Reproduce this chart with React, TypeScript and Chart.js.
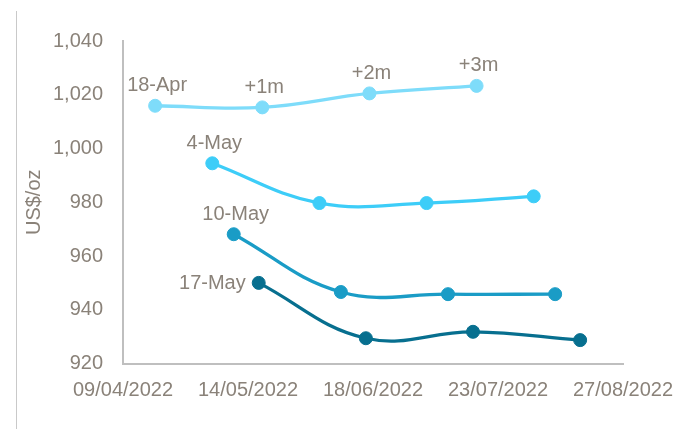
import React, { useEffect, useRef } from "react";
import { Chart, registerables } from "chart.js";

Chart.register(...registerables);

// ---- data ----
const seriesNames = ["18-Apr", "4-May", "10-May", "17-May"];

const apr18Dates = ["2022-04-18", "2022-05-18", "2022-06-17", "2022-07-17"];
const may4Dates = ["2022-05-04", "2022-06-03", "2022-07-03", "2022-08-02"];
const may10Dates = ["2022-05-10", "2022-06-09", "2022-07-09", "2022-08-08"];
const may17Dates = ["2022-05-17", "2022-06-16", "2022-07-16", "2022-08-15"];

const apr18Values = [1015.9, 1015.3, 1020.5, 1023.3];
const may4Values = [994.5, 979.7, 979.7, 982.2];
const may10Values = [968.1, 946.6, 945.8, 945.8];
const may17Values = [950.0, 929.4, 931.8, 928.7];

const apr18Labels = ["18-Apr", "+1m", "+2m", "+3m"];
const may4Labels = ["4-May", "", "", ""];
const may10Labels = ["10-May", "", "", ""];
const may17Labels = ["17-May", "", "", ""];

const xMinDate = "2022-04-09";
const xMaxDate = "2022-08-27";
const xStepDays = 35;
const yMin = 920;
const yMax = 1040;
const yStep = 20;
const yTitle = "US$/oz";

// ---- styles ----
const colors = ["#7edcfa", "#3dcdf8", "#1a9cc6", "#076f8f"];
const labelSides = ["top", "top", "top", "left"];
const textColor = "#8a8279";
const fontFamily = "'Liberation Sans', Arial, sans-serif";

const toDay = (s: string) => {
  const [y, m, d] = s.split("-").map(Number);
  return Date.UTC(y, m - 1, d) / 86400000;
};
const fmtDay = (v: number) => {
  const d = new Date(v * 86400000);
  const dd = String(d.getUTCDate()).padStart(2, "0");
  const mm = String(d.getUTCMonth() + 1).padStart(2, "0");
  return `${dd}/${mm}/${d.getUTCFullYear()}`;
};

const allDates = [apr18Dates, may4Dates, may10Dates, may17Dates];
const allValues = [apr18Values, may4Values, may10Values, may17Values];
const allLabels = [apr18Labels, may4Labels, may10Labels, may17Labels];

const pointLabelPlugin = {
  id: "pointLabels",
  afterDatasetsDraw(chart: any) {
    const ctx = chart.ctx;
    ctx.save();
    ctx.font = `20px ${fontFamily}`;
    ctx.fillStyle = textColor;
    chart.data.datasets.forEach((ds: any, i: number) => {
      const meta = chart.getDatasetMeta(i);
      meta.data.forEach((el: any, j: number) => {
        const txt = allLabels[i][j];
        if (!txt) return;
        if (labelSides[i] === "left") {
          ctx.textAlign = "right";
          ctx.textBaseline = "middle";
          ctx.fillText(txt, el.x - 13, el.y + 1);
        } else {
          ctx.textAlign = "center";
          ctx.textBaseline = "middle";
          ctx.fillText(txt, el.x + 2, el.y - 20);
        }
      });
    });
    ctx.restore();
  },
};

const edgeLinePlugin = {
  id: "edgeLine",
  afterDraw(chart: any) {
    const ctx = chart.ctx;
    ctx.save();
    ctx.strokeStyle = "#c9c9c9";
    ctx.lineWidth = 1;
    ctx.beginPath();
    ctx.moveTo(16.5, 11);
    ctx.lineTo(16.5, 429);
    ctx.stroke();
    ctx.restore();
  },
};

export default function App() {
  const ref = useRef<HTMLCanvasElement>(null);

  useEffect(() => {
    if (!ref.current) return;
    const datasets = seriesNames.map((name, i) => ({
      label: name,
      data: allDates[i].map((d, j) => ({ x: toDay(d), y: allValues[i][j] })),
      borderColor: colors[i],
      backgroundColor: colors[i],
      pointBackgroundColor: colors[i],
      pointBorderColor: colors[i],
      borderWidth: 3.3,
      pointRadius: 6.5,
      pointBorderWidth: 1,
      tension: 0.4,
      fill: false,
    }));

    const chart = new Chart(ref.current, {
      type: "line",
      data: { datasets },
      plugins: [pointLabelPlugin, edgeLinePlugin],
      options: {
        animation: false,
        responsive: false,
        maintainAspectRatio: false,
        layout: { padding: { left: 0, right: 68, top: 41, bottom: 0 } },
        plugins: {
          legend: { display: false },
          tooltip: { enabled: false },
        },
        scales: {
          x: {
            type: "linear",
            min: toDay(xMinDate),
            max: toDay(xMaxDate),
            grid: { display: false, drawTicks: false },
            border: { display: true, color: "#bfbfbf", width: 2 },
            ticks: {
              stepSize: xStepDays,
              autoSkip: false,
              maxRotation: 0,
              padding: 15,
              color: textColor,
              font: { family: fontFamily, size: 20 },
              callback: (v: any) => fmtDay(Number(v)),
            },
            afterFit: (scale: any) => {
              scale.height = 429 - 363.5;
            },
          },
          y: {
            type: "linear",
            min: yMin,
            max: yMax,
            grid: { display: false, drawTicks: false },
            border: { display: true, color: "#bfbfbf", width: 2 },
            ticks: {
              stepSize: yStep,
              padding: 20,
              color: textColor,
              font: { family: fontFamily, size: 20 },
              callback: (v: any) => Number(v).toLocaleString("en-US"),
            },
            title: {
              display: true,
              text: yTitle,
              color: textColor,
              font: { family: fontFamily, size: 20 },
              padding: { top: 22, bottom: 0 },
            },
            afterFit: (scale: any) => {
              scale.width = 123;
            },
          },
        },
      },
    });
    return () => chart.destroy();
  }, []);

  return (
    <div
      style={{
        position: "fixed",
        left: 0,
        top: 0,
        width: 691,
        height: 429,
        background: "#ffffff",
      }}
    >
      <canvas ref={ref} width={691} height={429} />
    </div>
  );
}
